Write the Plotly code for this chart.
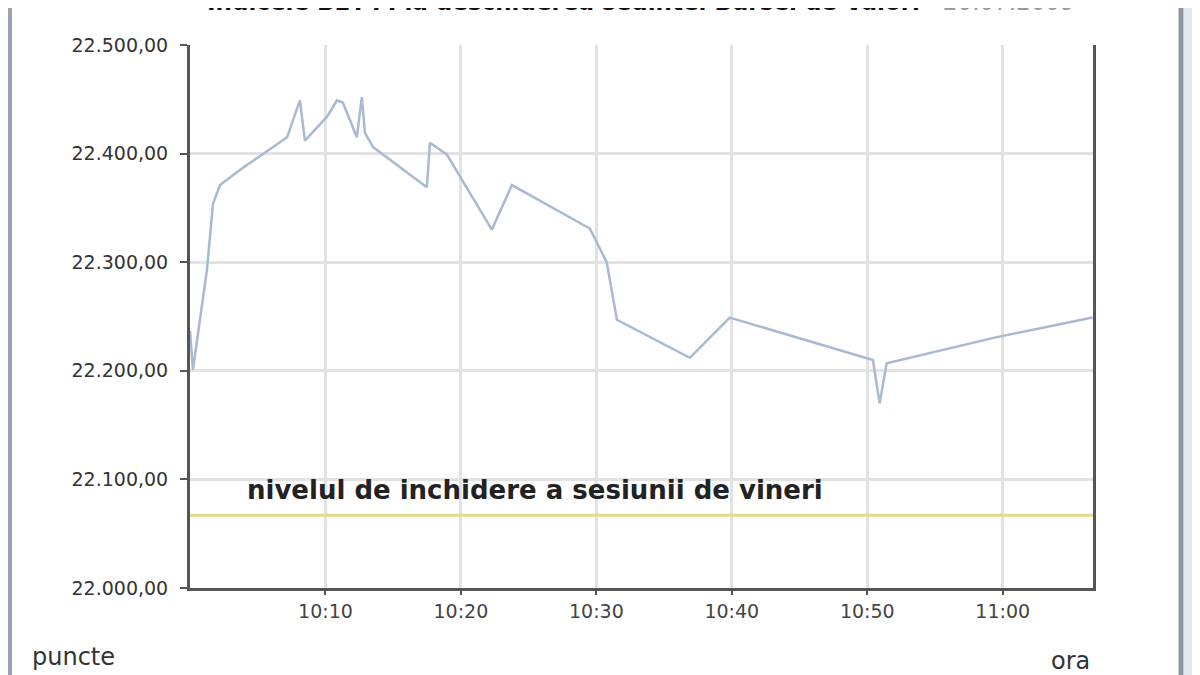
import plotly.graph_objects as go

# ---- data ----
times = ["10:00:00", "10:00:13", "10:01:15", "10:01:42", "10:02:13", "10:03:41",
         "10:07:10", "10:08:07", "10:08:29", "10:10:07", "10:10:51", "10:11:17",
         "10:12:19", "10:12:41", "10:12:55", "10:13:31", "10:17:29", "10:17:43",
         "10:18:58", "10:22:17", "10:23:46", "10:29:31", "10:30:46", "10:31:31",
         "10:36:54", "10:39:51", "10:50:25", "10:50:55", "10:51:26", "10:59:34",
         "11:06:38"]
values = [22237, 22201, 22293, 22354, 22371, 22385,
          22415, 22449, 22412, 22434, 22449, 22447,
          22415, 22452, 22419, 22406, 22369, 22410,
          22399, 22330, 22371, 22331, 22300, 22247,
          22212, 22249, 22210, 22170, 22207, 22231,
          22249]
friday_close = 22067
day = "2009-01-01 "
x_vals = [day + t for t in times]
x_start = day + "10:00:00"
x_end = day + "11:06:40"
tick_vals = [day + t for t in ["10:10:00", "10:20:00", "10:30:00", "10:40:00", "10:50:00", "11:00:00"]]
tick_text = ["10:10", "10:20", "10:30", "10:40", "10:50", "11:00"]
y_ticks = [22000, 22100, 22200, 22300, 22400, 22500]
title_dark = "Indicele BET-FI la deschiderea sedintei Bursei de Valori"
title_grey = "- 20.07.2009"
annot_text = "nivelul de inchidere a sesiunii de vineri"

# ---- layout geometry (screen pixels; page body has an 8px margin) ----
W, H = 1200, 675
OFF = 8
L, R, T, B = 190, 1093, 45, 588


def px(x):
    return (x - L) / (R - L)


def py(y):
    return (B - y) / (B - T)


FONT = "DejaVu Sans, Verdana, sans-serif"

fig = go.Figure()
fig.add_trace(go.Scatter(x=x_vals, y=values, mode="lines",
                         line=dict(color="#a9b9d2", width=2.5), hoverinfo="skip",
                         showlegend=False))
fig.add_trace(go.Scatter(x=[x_start, x_end], y=[friday_close, friday_close], mode="lines",
                         line=dict(color="#e9d98a", width=3), showlegend=False))

fig.update_layout(
    width=W - OFF, height=H - OFF,
    margin=dict(l=L - OFF, r=W - R, t=T - OFF, b=H - B, autoexpand=False),
    paper_bgcolor="white", plot_bgcolor="white",
    separators=",.",
    font=dict(family=FONT, color="#333333", size=19),
    xaxis=dict(range=[x_start, x_end], type="date", tickvals=tick_vals, ticktext=tick_text,
               showgrid=True, gridcolor="#e2e2e2", gridwidth=3,
               showline=True, linecolor="#555555", linewidth=3, mirror=False,
               ticks="outside", ticklen=4, tickcolor="#555555", tickwidth=2,
               tickfont=dict(size=19, color="#444444"), zeroline=False),
    yaxis=dict(range=[22000, 22500], tickvals=y_ticks, tickformat=",.2f",
               showgrid=True, gridcolor="#e2e2e2", gridwidth=3,
               showline=True, linecolor="#555555", linewidth=3, mirror=True,
               ticks="outside", ticklen=7, tickcolor="#555555", tickwidth=2,
               ticklabelstandoff=8,
               tickfont=dict(size=19, color="#333333"), zeroline=False),
    shapes=[
        dict(type="line", xref="paper", yref="paper", x0=px(10), x1=px(10), y0=py(0), y1=py(H),
             line=dict(color="#9aa4b0", width=4)),
        dict(type="line", xref="paper", yref="paper", x0=px(1181), x1=px(1181), y0=py(0), y1=py(H),
             line=dict(color="#8e959e", width=5)),
        dict(type="rect", xref="paper", yref="paper", x0=px(1184), x1=px(1199), y0=py(0), y1=py(H),
             line=dict(width=0), fillcolor="#e2e8ef"),
    ],
    annotations=[
        dict(text=annot_text, xref="paper", yref="paper", x=px(245), y=py(490),
             xanchor="left", yanchor="middle", showarrow=False,
             font=dict(family=FONT, size=26, color="#222222", weight="bold")),
        dict(text="puncte", xref="paper", yref="paper", x=px(30), y=py(657),
             xanchor="left", yanchor="middle", showarrow=False,
             font=dict(family=FONT, size=24, color="#333333")),
        dict(text="ora", xref="paper", yref="paper", x=px(1092), y=py(661),
             xanchor="right", yanchor="middle", showarrow=False,
             font=dict(family=FONT, size=24, color="#333333")),
        dict(text="<b>" + title_dark + "</b> <span style='color:#9a9a9a'>" + title_grey + "</span>",
             xref="paper", yref="paper", x=px(205), y=py(2),
             xanchor="left", yanchor="middle", showarrow=False,
             font=dict(family=FONT, size=23, color="#111111")),
    ],
)

fig.write_html("out.html")
